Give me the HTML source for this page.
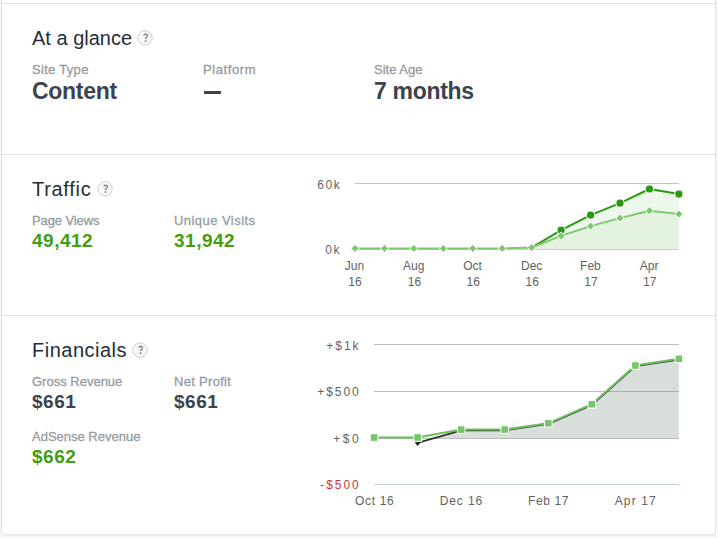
<!DOCTYPE html>
<html><head><meta charset="utf-8">
<style>
html,body{margin:0;padding:0;}
body{width:718px;height:538px;background:#f7f7f7;position:relative;overflow:hidden;font-family:"Liberation Sans",sans-serif;}
.card{position:absolute;left:1px;top:-10px;width:713px;height:543px;background:#fff;border:1px solid #e2e2e2;border-radius:3px;box-shadow:0 1px 0 #f0f0f0;}
.hr{position:absolute;left:2px;width:713px;height:1px;background:#e2e2e2;}
.t{position:absolute;white-space:nowrap;}
.h{font-size:20px;line-height:20px;color:#242e39;}
.lab{font-size:13px;line-height:13px;color:#959ba1;-webkit-text-stroke:0.3px #959ba1;}
.big{font-size:23px;line-height:23px;font-weight:bold;color:#3b434e;letter-spacing:-0.3px;}
.val{font-size:19px;line-height:19px;font-weight:bold;color:#3b434e;letter-spacing:0.5px;}
.g{color:#409e10;}
.q{position:absolute;width:14px;height:14px;border:1px solid #dadada;border-radius:50%;background:#f7f7f7;color:#6a6a6a;font-size:9px;line-height:16px;text-align:center;}
svg{position:absolute;left:0;top:0;}
.ax{font-family:"Liberation Sans",sans-serif;font-size:12px;fill:#626262;}
</style></head><body>
<div class="card"></div>
<div class="hr" style="top:3px"></div>
<div class="hr" style="top:154px"></div>
<div class="hr" style="top:315px"></div>

<div class="t h" style="left:32px;top:28px">At a glance</div>
<div class="t lab" style="left:32px;top:63px;letter-spacing:0.3px">Site Type</div>
<div class="t big" style="left:32px;top:80px">Content</div>
<div class="t lab" style="left:203px;top:63px;letter-spacing:0.6px">Platform</div>
<div style="position:absolute;left:204px;top:91px;width:17px;height:3px;background:#3b434e"></div>
<div class="t lab" style="left:374px;top:63px">Site Age</div>
<div class="t big" style="left:374px;top:80px">7 months</div>

<div class="t h" style="left:32px;top:179px;letter-spacing:0.7px">Traffic</div>
<div class="t lab" style="left:32px;top:214px;letter-spacing:-0.1px">Page Views</div>
<div class="t val g" style="left:32px;top:231px">49,412</div>
<div class="t lab" style="left:174px;top:214px;letter-spacing:0.45px">Unique Visits</div>
<div class="t val g" style="left:174px;top:231px">31,942</div>

<div class="t h" style="left:32px;top:340px;letter-spacing:0.5px">Financials</div>
<div class="t lab" style="left:32px;top:375px">Gross Revenue</div>
<div class="t val" style="left:32px;top:392px">$661</div>
<div class="t lab" style="left:174px;top:375px;letter-spacing:0.3px">Net Profit</div>
<div class="t val" style="left:174px;top:392px">$661</div>
<div class="t lab" style="left:32px;top:430px">AdSense Revenue</div>
<div class="t val g" style="left:32px;top:447px">$662</div>

<svg width="718" height="538" viewBox="0 0 718 538">
  <g transform="translate(145,37.8)"><circle r="7.2" fill="#f7f7f7" stroke="#d0d0d0" stroke-width="1"/><path d="M-1.3,-2.3C-1.0,-3.3 -0.2,-3.7 0.6,-3.7C1.7,-3.7 2.4,-3.0 2.4,-2.1C2.4,-0.9 0.9,-0.6 0.6,0.5L0.6,1.1" fill="none" stroke="#6e6e6e" stroke-width="1.15"/><circle cx="0.55" cy="3.2" r="0.85" fill="#6e6e6e"/></g>
  <g transform="translate(105,188.8)"><circle r="7.2" fill="#f7f7f7" stroke="#d0d0d0" stroke-width="1"/><path d="M-1.3,-2.3C-1.0,-3.3 -0.2,-3.7 0.6,-3.7C1.7,-3.7 2.4,-3.0 2.4,-2.1C2.4,-0.9 0.9,-0.6 0.6,0.5L0.6,1.1" fill="none" stroke="#6e6e6e" stroke-width="1.15"/><circle cx="0.55" cy="3.2" r="0.85" fill="#6e6e6e"/></g>
  <g transform="translate(140,350)"><circle r="7.2" fill="#f7f7f7" stroke="#d0d0d0" stroke-width="1"/><path d="M-1.3,-2.3C-1.0,-3.3 -0.2,-3.7 0.6,-3.7C1.7,-3.7 2.4,-3.0 2.4,-2.1C2.4,-0.9 0.9,-0.6 0.6,0.5L0.6,1.1" fill="none" stroke="#6e6e6e" stroke-width="1.15"/><circle cx="0.55" cy="3.2" r="0.85" fill="#6e6e6e"/></g>

  <line x1="355" y1="183.5" x2="679" y2="183.5" stroke="#c4c4c4"/>
  <polygon points="531.7,247.6 561.1,230.2 590.6,215.1 620.0,203.1 649.5,189.0 678.9,194.1 678.9,249 531.7,249" fill="#eef7ec"/>
  <polygon points="355.0,248.4 384.4,248.4 413.9,248.4 443.3,248.4 472.8,248.4 502.2,248.4 531.7,247.6 561.1,235.9 590.6,226.1 620.0,218.1 649.5,210.8 678.9,214.0 678.9,249 355.0,249" fill="#e4f3e0"/>
  <line x1="355" y1="249.5" x2="679" y2="249.5" stroke="#c0d0e0"/>
  <polyline points="531.7,247.6 561.1,230.2 590.6,215.1 620.0,203.1 649.5,189.0 678.9,194.1" fill="none" stroke="#2a9a13" stroke-width="2" stroke-linejoin="round"/>
  <polyline points="355.0,248.4 384.4,248.4 413.9,248.4 443.3,248.4 472.8,248.4 502.2,248.4 531.7,247.6 561.1,235.9 590.6,226.1 620.0,218.1 649.5,210.8 678.9,214.0" fill="none" stroke="#7cc86c" stroke-width="2" stroke-linejoin="round"/>
  <g fill="#2a9a13" stroke="#fff" stroke-width="1">
  <circle cx="561.1" cy="230.2" r="4.1"/>
  <circle cx="590.6" cy="215.1" r="4.1"/>
  <circle cx="620.0" cy="203.1" r="4.1"/>
  <circle cx="649.5" cy="189.0" r="4.1"/>
  <circle cx="678.9" cy="194.1" r="4.1"/>
  </g><g fill="#7cc86c" stroke="#fff" stroke-width="1">
  <path d="M355.0,244.4L359.0,248.4L355.0,252.4L351.0,248.4Z"/>
  <path d="M384.4,244.4L388.4,248.4L384.4,252.4L380.4,248.4Z"/>
  <path d="M413.9,244.4L417.9,248.4L413.9,252.4L409.9,248.4Z"/>
  <path d="M443.3,244.4L447.3,248.4L443.3,252.4L439.3,248.4Z"/>
  <path d="M472.8,244.4L476.8,248.4L472.8,252.4L468.8,248.4Z"/>
  <path d="M502.2,244.4L506.2,248.4L502.2,252.4L498.2,248.4Z"/>
  <path d="M531.7,243.6L535.7,247.6L531.7,251.6L527.7,247.6Z"/>
  <path d="M561.1,231.9L565.1,235.9L561.1,239.9L557.1,235.9Z"/>
  <path d="M590.6,222.1L594.6,226.1L590.6,230.1L586.6,226.1Z"/>
  <path d="M620.0,214.1L624.0,218.1L620.0,222.1L616.0,218.1Z"/>
  <path d="M649.5,206.8L653.5,210.8L649.5,214.8L645.5,210.8Z"/>
  <path d="M678.9,210.0L682.9,214.0L678.9,218.0L674.9,214.0Z"/>
  </g>
  <g class="ax">
  <text x="317.2" y="189" textLength="22.6" lengthAdjust="spacing">60k</text>
  <text x="325.2" y="254" textLength="14.4" lengthAdjust="spacing">0k</text>
  <g text-anchor="middle">
  <text x="354.5" y="270">Jun</text><text x="355" y="286">16</text>
  <text x="413.8" y="270">Aug</text><text x="414.5" y="286">16</text>
  <text x="472.6" y="270">Oct</text><text x="473.3" y="286">16</text>
  <text x="531.7" y="270">Dec</text><text x="532.2" y="286">16</text>
  <text x="590.4" y="270">Feb</text><text x="590.9" y="286">17</text>
  <text x="649.2" y="270">Apr</text><text x="649.7" y="286">17</text>
  </g>
  </g>
  <line x1="374" y1="344.5" x2="679" y2="344.5" stroke="#bdbdbd"/>
  <line x1="374" y1="391.5" x2="679" y2="391.5" stroke="#bdbdbd"/>
  <polygon points="433.5,438 461.2,429.6 504.7,429.6 548.3,423.3 591.8,404.2 635.4,365.5 678.9,358.8 678.9,438" fill="rgb(120,140,128)" fill-opacity="0.29"/>
  <line x1="374" y1="438.5" x2="679" y2="438.5" stroke="#b8bcba"/>
  <line x1="374" y1="484.5" x2="679" y2="484.5" stroke="#c0d0e0"/>
  <polyline points="417.6,442.8 461.2,430.3 504.7,430.3 548.3,424.0 591.8,404.9 635.4,366.2 678.9,359.5" fill="none" stroke="#333" stroke-width="1.8"/>
  <polyline points="374.1,437.5 417.6,437.5 461.2,429.6 504.7,429.6 548.3,423.3 591.8,404.2 635.4,365.5 678.9,358.8" fill="none" stroke="#6cbf5d" stroke-width="2"/>
  <path d="M414.6,442.3h6l-3,3.6z" fill="#111"/>
  <g fill="#77c46a" stroke="#fff" stroke-width="1">
  <rect x="370.3" y="433.7" width="7.6" height="7.6"/>
  <rect x="413.8" y="433.7" width="7.6" height="7.6"/>
  <rect x="457.4" y="425.8" width="7.6" height="7.6"/>
  <rect x="500.9" y="425.8" width="7.6" height="7.6"/>
  <rect x="544.5" y="419.5" width="7.6" height="7.6"/>
  <rect x="588.0" y="400.4" width="7.6" height="7.6"/>
  <rect x="631.6" y="361.7" width="7.6" height="7.6"/>
  <rect x="675.1" y="355.0" width="7.6" height="7.6"/>
  </g>
  <g class="ax">
  <text x="326.2" y="350" textLength="32.4" lengthAdjust="spacing">+$1k</text>
  <text x="317.3" y="396" textLength="41.5" lengthAdjust="spacing">+$500</text>
  <text x="333.3" y="443" textLength="25.5" lengthAdjust="spacing">+$0</text>
  <text x="320.2" y="489" textLength="38.5" lengthAdjust="spacing" fill="#d33b3b">-$500</text>
  <text x="355.0" y="505" textLength="38.8" lengthAdjust="spacing">Oct 16</text>
  <text x="439.8" y="505" textLength="42.3" lengthAdjust="spacing">Dec 16</text>
  <text x="527.9" y="505" textLength="40.6" lengthAdjust="spacing">Feb 17</text>
  <text x="614.7" y="505" textLength="41.1" lengthAdjust="spacing">Apr 17</text>
  </g>
</svg>
</body></html>
